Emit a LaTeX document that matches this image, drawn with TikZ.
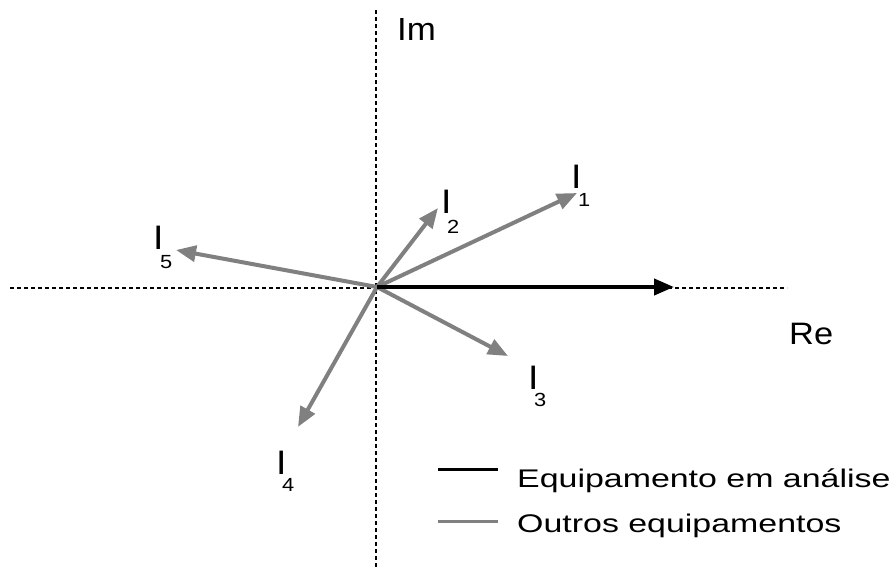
\documentclass[tikz,border=0pt]{standalone}
\usepackage{fontspec}
\usepackage{graphicx}
\setmainfont{Liberation Sans}
\usetikzlibrary{arrows.meta}
\definecolor{vgrey}{HTML}{808080}
\newcommand{\wide}[2]{\scalebox{#1}[1]{#2}}
\tikzset{
  axisline/.style={line width=1.4pt, dash pattern=on 4pt off 3pt},
  vecgrey/.style={vgrey, line width=4pt, -{Triangle[length=20pt,width=16pt]}},
  vecblack/.style={black, line width=4pt, -{Triangle[length=20pt,width=16pt]}},
  lab/.style={inner sep=0pt, anchor=base west, font=\fontsize{34}{34}\selectfont},
  sub/.style={inner sep=0pt, anchor=base west, font=\fontsize{19}{19}\selectfont},
  leg/.style={inner sep=0pt, anchor=base west, font=\fontsize{25.5}{25.5}\selectfont},
}
\begin{document}
\begin{tikzpicture}[x=1pt,y=-1pt]
\useasboundingbox (0,0) rectangle (891,571);
% axes
\coordinate (xl) at (10,288);
\coordinate (xr) at (787,288);
\coordinate (yt) at (376,10);
\coordinate (yb) at (376,568);
\draw[axisline] (xl) -- (xr);
\draw[axisline] (yt) -- (yb);
\coordinate (O) at (377,287);
% tips
\coordinate (t1) at (577,193);
\coordinate (t2) at (438,208);
\coordinate (t3) at (508,356);
\coordinate (t4) at (298,427);
\coordinate (t5) at (176,250);
\coordinate (t0) at (674,287);
\draw[vecgrey] (O) -- (t1);
\draw[vecgrey] (O) -- (t2);
\draw[vecgrey] (O) -- (t3);
\draw[vecgrey] (O) -- (t4);
\draw[vecgrey] (O) -- (t5);
\draw[vecblack] (O) -- (t0);
% labels
\node[lab] (l1) at (571,188) {\wide{1.1}{I}};
\node[sub] (s1) at (578,206) {\wide{1.15}{1}};
\node[lab] (l2) at (441,213) {\wide{1.1}{I}};
\node[sub] (s2) at (447,233) {\wide{1.15}{2}};
\node[lab] (l5) at (153,249) {\wide{1.1}{I}};
\node[sub] (s5) at (160,268) {\wide{1.15}{5}};
\node[lab] (l3) at (528,389) {\wide{1.1}{I}};
\node[sub] (s3) at (534,406) {\wide{1.15}{3}};
\node[lab] (l4) at (276,474) {\wide{1.1}{I}};
\node[sub] (s4) at (282,491) {\wide{1.15}{4}};
\node[lab, font=\fontsize{32}{32}\selectfont] (im) at (397,40) {\wide{1.09}{Im}};
\node[lab, font=\fontsize{31}{31}\selectfont] (re) at (789,344) {\wide{1.11}{Re}};
% legend
\coordinate (a1) at (438,469);
\coordinate (a2) at (498,469);
\coordinate (b1) at (438,521);
\coordinate (b2) at (498,521);
\draw[black, line width=3pt] (a1) -- (a2);
\draw[vgrey, line width=3pt] (b1) -- (b2);
\node[leg] (e1) at (517,487) {\wide{1.33}{Equipamento em análise}};
\node[leg] (e2) at (517,532) {\wide{1.33}{Outros equipamentos}};
\end{tikzpicture}
\end{document}
